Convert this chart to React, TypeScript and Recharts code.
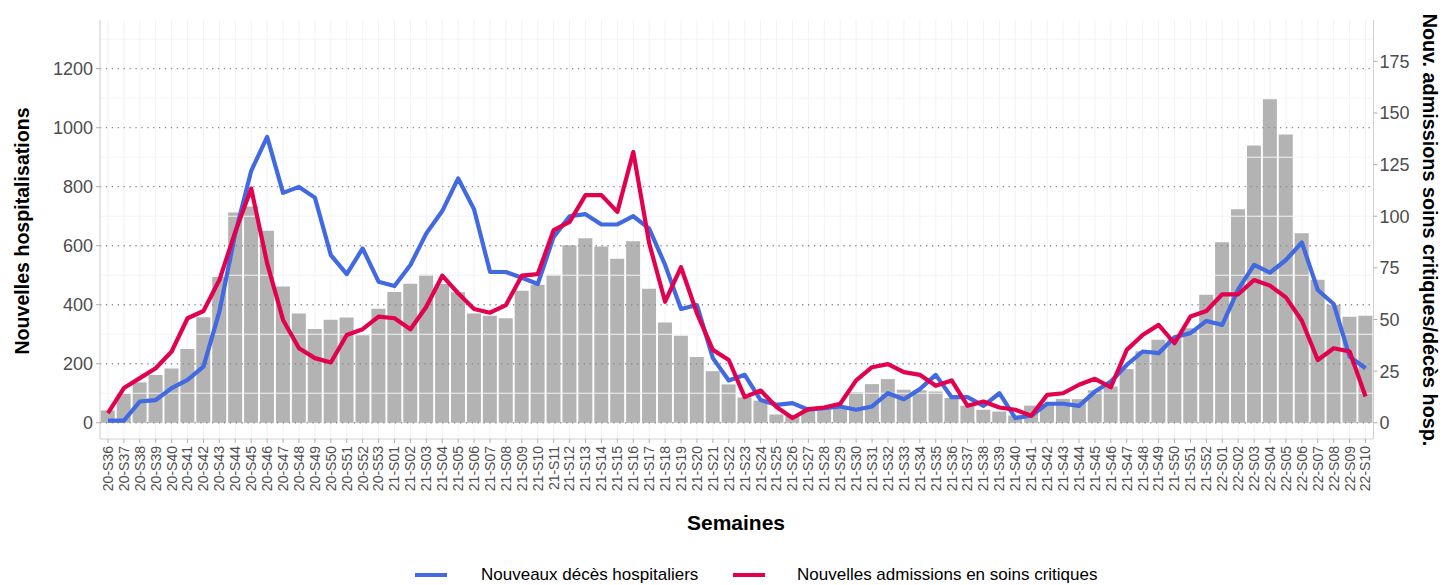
import React from 'react';
import { ComposedChart, Bar, Line, XAxis, YAxis, CartesianGrid, Legend, ReferenceLine } from 'recharts';

const weeks = [
  '20-S36','20-S37','20-S38','20-S39','20-S40','20-S41','20-S42','20-S43','20-S44','20-S45','20-S46','20-S47','20-S48','20-S49','20-S50','20-S51','20-S52','20-S53',
  '21-S01','21-S02','21-S03','21-S04','21-S05','21-S06','21-S07','21-S08','21-S09','21-S10',
  '21-S11','21-S12','21-S13','21-S14','21-S15','21-S16','21-S17','21-S18','21-S19','21-S20',
  '21-S21','21-S22','21-S23','21-S24','21-S25','21-S26','21-S27','21-S28','21-S29','21-S30',
  '21-S31','21-S32','21-S33','21-S34','21-S35','21-S36','21-S37','21-S38','21-S39','21-S40',
  '21-S41','21-S42','21-S43','21-S44','21-S45','21-S46','21-S47','21-S48','21-S49','21-S50',
  '21-S51','21-S52',
  '22-S01','22-S02','22-S03','22-S04','22-S05','22-S06','22-S07','22-S08','22-S09','22-S10',
];

const hospitalisations = [
  42, 98, 137, 162, 184, 250, 358, 494, 713, 733, 651, 462, 370, 318, 349, 357, 297, 386,
  443, 471, 502, 470, 442, 370, 363, 354, 447, 468,
  502, 602, 625, 597, 556, 615, 454, 340, 295, 223,
  175, 130, 86, 75, 28, 25, 44, 50, 55, 103,
  131, 148, 112, 110, 106, 84, 58, 44, 38, 25,
  58, 62, 81, 80, 110, 123, 182, 242, 281, 287,
  320, 434,
  612, 724, 940, 1096, 977, 642, 485, 400, 359, 363,
];

const deces = [
  1, 1, 10.3, 11, 16.8, 20.8, 27.2, 53.8, 91.7, 122, 138.4, 111.3, 114.2, 109, 81.2, 72, 84.4, 68.3,
  66.2, 76.4, 91.7, 102.5, 118.3, 103.3, 73.1, 73, 70.2, 67.2,
  90, 100, 101, 96, 96, 100, 94, 76.4, 55.1, 57,
  31.3, 20.5, 23.2, 11, 8.7, 9.5, 6.3, 7.1, 7.9, 6.3,
  7.9, 14.3, 11.4, 16.3, 23.2, 12.4, 12.4, 8.2, 14.3, 2.3,
  3.4, 9.2, 9.2, 8.2, 15.1, 20, 28, 34.5, 33.7, 41.4,
  43.4, 49.3,
  47.4, 64.6, 76.4, 72.7, 78.8, 87.3, 64.3, 57.5, 32, 26.4,
];

const soinsCritiques = [
  4.7, 16.8, 21.6, 26.4, 34.5, 50.6, 54.1, 69.1, 92.5, 113.4, 77.2, 49.8, 36.1, 31.3, 29.2, 42.5, 45.3, 51.4,
  50.6, 45.3, 56.2, 71.2, 62.7, 55.1, 53.3, 57, 71.2, 72,
  93.3, 97.3, 110.2, 110.2, 102.1, 131.1, 86.9, 58.6, 75.3, 53,
  35.3, 30.4, 12.4, 15.6, 7.6, 2.3, 6.6, 7.4, 9.2, 20.5,
  26.9, 28.4, 24.5, 23.2, 17.9, 20.5, 8.2, 10.3, 7.4, 6.3,
  3.4, 13.5, 14.3, 18.4, 21.3, 17.2, 35.3, 42.5, 47.4, 38.5,
  51.4, 54.1,
  62.2, 62.2, 69.1, 66.4, 60.7, 49.4, 30.4, 36.1, 34.5, 12.7,
];

const leftTicks = [0, 200, 400, 600, 800, 1000, 1200];
const leftMinor = [100, 300, 500, 700, 900, 1100, 1300];
const rightTicks = [0, 25, 50, 75, 100, 125, 150, 175];

const data = weeks.map((w, i) => ({
  week: w,
  hosp: hospitalisations[i],
  deces: deces[i],
  sc: soinsCritiques[i],
}));

const FONT = '"Liberation Sans", Arial, Helvetica, sans-serif';
const BLUE = '#4169E1';
const RED = '#E2004F';

const XTick = (props: any) => {
  const { x, y, payload } = props;
  return (
    <text
      x={x}
      y={y}
      transform={`rotate(-90, ${x}, ${y})`}
      textAnchor="end"
      dy="0.35em"
      fontSize={14}
      fontFamily={FONT}
      fill="#4D4D4D"
    >
      {payload.value}
    </text>
  );
};

const LeftTitle = () => (
  <text
    x={22}
    y={231}
    transform="rotate(-90, 22, 231)"
    textAnchor="middle"
    dominantBaseline="central"
    fontSize={19.6}
    fontWeight="bold"
    fontFamily={FONT}
    fill="#000"
  >
    Nouvelles hospitalisations
  </text>
);

const RightTitle = () => (
  <text
    x={1430}
    y={230}
    transform="rotate(90, 1430, 230)"
    textAnchor="middle"
    dominantBaseline="central"
    fontSize={19.8}
    fontWeight="bold"
    fontFamily={FONT}
    fill="#000"
  >
    Nouv. admissions soins critiques/décès hosp.
  </text>
);

const XTitle = () => (
  <text
    x={736}
    y={522}
    textAnchor="middle"
    dominantBaseline="central"
    fontSize={21}
    fontWeight="bold"
    fontFamily={FONT}
    fill="#000"
  >
    Semaines
  </text>
);

const LegendContent = () => (
  <div style={{ position: 'relative', width: 1445, height: 20, fontFamily: FONT, fontSize: 17, color: '#000' }}>
    <div style={{ position: 'absolute', left: 415, top: 8, width: 32, height: 4, background: BLUE }} />
    <div style={{ position: 'absolute', left: 481, top: 0, lineHeight: '20px', whiteSpace: 'nowrap' }}>Nouveaux décès hospitaliers</div>
    <div style={{ position: 'absolute', left: 733, top: 8, width: 32, height: 4, background: RED }} />
    <div style={{ position: 'absolute', left: 797, top: 0, lineHeight: '20px', whiteSpace: 'nowrap' }}>Nouvelles admissions en soins critiques</div>
  </div>
);

export default function App() {
  return (
    <div style={{ position: 'absolute', left: 0, top: 0, width: 1445, height: 585, background: '#fff' }}>
      <ComposedChart
        width={1445}
        height={585}
        data={data}
        margin={{ top: 20, right: 0, bottom: 0, left: 0 }}
        barCategoryGap="5%"
      >
        <CartesianGrid horizontal={false} vertical={true} stroke="#F2F2F2" strokeWidth={1} yAxisId="left" />
        {leftMinor.map((v) => (
          <ReferenceLine key={v} y={v} yAxisId="left" stroke="#F4F4F4" strokeWidth={1} ifOverflow="hidden" />
        ))}
        {leftTicks.map((v) => (
          <ReferenceLine key={'g' + v} y={v} yAxisId="left" stroke="#8C8C8C" strokeWidth={1.3} strokeDasharray="1.3 4.6" />
        ))}
        <XAxis
          dataKey="week"
          interval={0}
          height={146}
          tick={<XTick />}
          tickSize={4}
          tickMargin={3}
          stroke="#D0D0D0"
          tickLine={{ stroke: '#B0B0B0' }}
          label={<XTitle />}
        />
        <YAxis
          yAxisId="left"
          orientation="left"
          width={100}
          domain={[-55, 1365]}
          ticks={leftTicks}
          allowDataOverflow
          tickSize={4}
          tickMargin={3}
          stroke="#D0D0D0"
          tickLine={{ stroke: '#B0B0B0' }}
          tick={{ fontSize: 18, fill: '#4D4D4D', fontFamily: FONT }}
          label={<LeftTitle />}
        />
        <YAxis
          yAxisId="right"
          orientation="right"
          width={71.5}
          domain={[-55 / 7, 1365 / 7]}
          ticks={rightTicks}
          allowDataOverflow
          tickSize={4}
          tickMargin={2}
          stroke="#D0D0D0"
          tickLine={{ stroke: '#B0B0B0' }}
          tick={{ fontSize: 18, fill: '#4D4D4D', fontFamily: FONT }}
          label={<RightTitle />}
        />
        <Bar yAxisId="left" dataKey="hosp" fill="#B3B3B3" isAnimationActive={false} legendType="none" />
        <Line
          yAxisId="right"
          type="linear"
          dataKey="deces"
          stroke={BLUE}
          strokeWidth={4.2}
          strokeLinejoin="round"
          dot={false}
          activeDot={false}
          isAnimationActive={false}
        />
        <Line
          yAxisId="right"
          type="linear"
          dataKey="sc"
          stroke={RED}
          strokeWidth={4.2}
          strokeLinejoin="round"
          dot={false}
          activeDot={false}
          isAnimationActive={false}
        />
        <Legend
          layout="horizontal"
          verticalAlign="middle"
          align="center"
          content={<LegendContent />}
          wrapperStyle={{ left: 0, top: 565, width: 1445, height: 20 }}
        />
      </ComposedChart>
    </div>
  );
}
